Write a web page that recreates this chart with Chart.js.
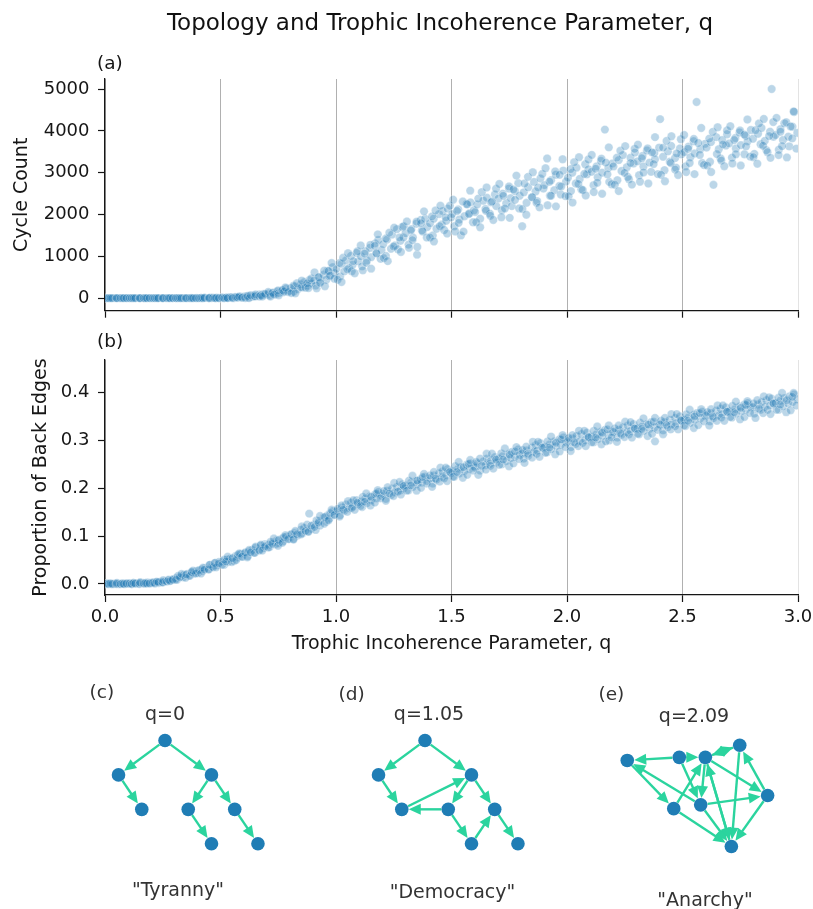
<!DOCTYPE html>
<html>
<head>
<meta charset="utf-8">
<script src="https://cdn.jsdelivr.net/npm/chart.js@4.4.1/dist/chart.umd.min.js"></script>
<style>
html,body{margin:0;padding:0;background:#fff;overflow:hidden;}
#page{position:relative;width:813px;height:909px;background:#fff;font-family:"DejaVu Sans",sans-serif;overflow:hidden;}
#page canvas{position:absolute;}
.t{position:absolute;white-space:nowrap;font-family:"DejaVu Sans",sans-serif;}
</style>
</head>
<body>
<div id="page">
<canvas id="cA" width="813" height="330" style="left:0;top:0"></canvas>
<canvas id="cB" width="813" height="330" style="left:0;top:330px"></canvas>
<canvas id="netC" width="246" height="203" style="left:42px;top:682px"></canvas>
<canvas id="netD" width="246" height="203" style="left:302px;top:682px"></canvas>
<canvas id="netE" width="246" height="203" style="left:567px;top:682px"></canvas>
</div>
<script>
// ---------- data ----------
const xTicks = [0, 0.5, 1.0, 1.5, 2.0, 2.5, 3.0];
const yTicksA = [0, 1000, 2000, 3000, 4000, 5000];
const yTicksB = [0, 0.1, 0.2, 0.3, 0.4];

// trophic incoherence parameter of each sampled network
const q = [
0.002,0.011,0.019,0.027,0.038,0.046,0.057,0.064,0.079,0.088,0.096,
0.104,0.115,0.122,0.133,0.147,0.153,0.166,0.172,0.184,0.195,
0.203,0.214,0.226,0.232,0.245,0.251,0.263,0.277,0.286,0.294,
0.306,0.312,0.325,0.338,0.341,0.356,0.363,0.374,0.385,0.397,
0.402,0.417,0.423,0.431,0.449,0.455,0.462,0.478,0.484,0.493,
0.507,0.516,0.528,0.533,0.541,0.559,0.564,0.573,0.588,0.595,
0.604,0.618,0.622,0.637,0.645,0.651,0.669,0.673,0.686,0.692,
0.709,0.713,0.726,0.738,0.744,0.752,0.767,0.771,0.785,0.798,
0.803,0.816,0.821,0.834,0.847,0.855,0.862,0.879,0.884,0.893,
0.905,0.912,0.927,0.931,0.946,0.958,0.963,0.971,0.986,0.994,
1.002,1.018,1.024,1.036,1.043,1.057,1.065,1.072,1.089,1.096,
1.108,1.113,1.127,1.134,1.146,1.152,1.169,1.175,1.183,1.197,
1.204,1.216,1.221,1.238,1.243,1.255,1.264,1.279,1.287,1.292,
1.301,1.314,1.326,1.333,1.348,1.351,1.367,1.372,1.386,1.395,
1.407,1.419,1.423,1.435,1.446,1.458,1.461,1.477,1.483,1.498,
1.503,1.512,1.529,1.534,1.541,1.556,1.565,1.578,1.582,1.597,
1.602,1.611,1.624,1.638,1.647,1.653,1.666,1.671,1.688,1.694,
1.703,1.718,1.722,1.737,1.749,1.756,1.761,1.774,1.789,1.795,
1.806,1.813,1.825,1.832,1.848,1.857,1.864,1.871,1.885,1.898,
1.902,1.914,1.926,1.931,1.945,1.952,1.967,1.973,1.984,1.996,
2.004,2.017,2.023,2.038,2.041,2.055,2.062,2.079,2.086,2.093,
2.106,2.115,2.128,2.133,2.147,2.152,2.164,2.179,2.183,2.197,
2.201,2.218,2.224,2.236,2.242,2.259,2.263,2.275,2.288,2.294,
2.305,2.312,2.327,2.331,2.346,2.357,2.364,2.378,2.381,2.399,
2.403,2.416,2.422,2.437,2.445,2.451,2.468,2.472,2.489,2.495,
2.507,2.513,2.526,2.534,2.548,2.552,2.561,2.577,2.585,2.598,
2.604,2.619,2.623,2.634,2.646,2.657,2.665,2.672,2.688,2.693,
2.702,2.714,2.729,2.731,2.747,2.753,2.768,2.774,2.782,2.796,
2.805,2.811,2.827,2.838,2.842,2.856,2.863,2.879,2.886,2.894,
2.903,2.917,2.924,2.935,2.941,2.958,2.962,2.976,2.983,2.997,
0.007,0.016,0.024,0.031,0.049,0.052,0.068,0.075,0.081,0.093,
0.107,0.116,0.124,0.131,0.149,0.152,0.168,0.175,0.181,0.193,
0.207,0.216,0.224,0.231,0.249,0.252,0.268,0.275,0.281,0.293,
0.307,0.316,0.324,0.331,0.349,0.352,0.368,0.375,0.381,0.393,
0.407,0.416,0.424,0.431,0.449,0.452,0.468,0.475,0.481,0.493,
0.507,0.516,0.524,0.531,0.549,0.552,0.568,0.575,0.581,0.593,
0.607,0.616,0.624,0.631,0.649,0.652,0.668,0.675,0.681,0.693,
0.707,0.716,0.724,0.731,0.749,0.752,0.768,0.775,0.781,0.793,
0.807,0.816,0.824,0.831,0.849,0.852,0.868,0.875,0.881,0.893,
0.907,0.916,0.924,0.931,0.949,0.952,0.968,0.975,0.981,0.993,
1.007,1.016,1.024,1.031,1.049,1.052,1.068,1.075,1.081,1.093,
1.107,1.116,1.124,1.131,1.149,1.152,1.168,1.175,1.181,1.193,
1.207,1.216,1.224,1.231,1.249,1.252,1.268,1.275,1.281,1.293,
1.307,1.316,1.324,1.331,1.349,1.352,1.368,1.375,1.381,1.393,
1.407,1.416,1.424,1.431,1.449,1.452,1.468,1.475,1.481,1.493,
1.507,1.516,1.524,1.531,1.549,1.552,1.568,1.575,1.581,1.593,
1.607,1.616,1.624,1.631,1.649,1.652,1.668,1.675,1.681,1.693,
1.707,1.716,1.724,1.731,1.749,1.752,1.768,1.775,1.781,1.793,
1.807,1.816,1.824,1.831,1.849,1.852,1.868,1.875,1.881,1.893,
1.907,1.916,1.924,1.931,1.949,1.952,1.968,1.975,1.981,1.993,
2.007,2.016,2.024,2.031,2.049,2.052,2.068,2.075,2.081,2.093,
2.107,2.116,2.124,2.131,2.149,2.152,2.168,2.175,2.181,2.193,
2.207,2.216,2.224,2.231,2.249,2.252,2.268,2.275,2.281,2.293,
2.307,2.316,2.324,2.331,2.349,2.352,2.368,2.375,2.381,2.393,
2.407,2.416,2.424,2.431,2.449,2.452,2.468,2.475,2.481,2.493,
2.507,2.516,2.524,2.531,2.549,2.552,2.568,2.575,2.581,2.593,
2.607,2.616,2.624,2.631,2.649,2.652,2.668,2.675,2.681,2.693,
2.707,2.716,2.724,2.731,2.749,2.752,2.768,2.775,2.781,2.793,
2.807,2.816,2.824,2.831,2.849,2.852,2.868,2.875,2.881,2.893,
2.907,2.916,2.924,2.931,2.949,2.952,2.968,2.975,2.981,2.993
];

// panel (a): number of cycles of each network
const cycleCount = [
0,0,0,0,0,0,0,0,0,0,0,
0,0,0,0,0,0,0,0,0,0,
0,0,0,0,0,0,0,0,0,0,
0,0,0,0,0,0,0,5,0,5,
0,5,0,5,0,10,5,0,10,5,
5,0,15,10,20,5,30,15,35,20,
40,15,50,30,65,45,90,60,100,75,
110,60,130,95,160,120,190,140,230,175,
240,150,280,210,330,260,380,300,430,350,
420,300,500,390,560,440,650,520,740,600,
700,520,820,640,900,720,1010,800,1080,880,
1000,760,1120,900,1200,980,1310,1080,1390,1150,
1290,1010,1400,1180,1520,1260,1650,1370,1700,1450,
1550,1280,1650,1450,1780,1040,1870,1620,1900,1700,
1790,1500,1900,1660,2010,1760,2080,1850,2140,1930,
2010,1720,2120,1880,1500,1960,2250,2030,2290,2100,
2060,2240,1900,2330,2130,2400,2020,2290,2480,2200,
2380,2100,2500,2270,2620,2390,2200,2560,2750,2450,
1720,2530,2280,2650,2410,2780,2550,2320,2860,2620,
2700,3340,2450,2820,2580,2950,2680,2480,3050,2790,
2880,2560,3000,2740,3120,2850,2600,3200,2960,3080,
3020,2700,3150,2890,3280,3000,4030,3110,2780,3220,
3150,2820,3300,3040,3420,3130,2900,3360,3220,3480,
3270,2940,3400,3150,3530,3240,3020,3470,3320,3600,
4280,3380,3060,3510,3260,3640,3350,3120,3580,3440,
3490,3150,3620,3370,3750,3460,4690,3560,3230,3690,
3600,3260,3730,2710,3850,3560,3340,3780,3650,3920,
3700,3360,3830,3580,3960,3660,3440,3880,3750,4020,
3810,3450,3930,3680,4070,3760,3540,3980,5000,3860,
3900,3550,4040,3780,4180,3860,3630,4100,4450,3950,
0,0,0,0,0,0,0,0,0,0,
0,0,0,0,0,0,0,0,0,0,
0,0,0,0,0,0,0,0,0,0,
0,0,0,0,0,0,0,0,0,0,
0,5,0,10,0,5,10,0,5,0,
18,0,10,0,23,0,24,16,39,11,
3,52,0,70,42,88,40,70,38,102,
150,40,125,85,185,70,190,160,255,145,
120,295,115,355,260,420,250,355,240,470,
615,235,500,365,655,285,650,540,840,465,
440,840,385,965,690,1075,645,885,595,1120,
1260,665,1065,845,1275,705,1250,1070,1525,940,
960,1425,885,1565,1235,1685,1170,1450,1105,1720,
1835,1205,1620,1385,1830,1225,1790,1595,2075,1450,
1450,1955,1355,2095,1720,2210,1630,1930,1545,2210,
2355,1595,2085,1800,2310,1590,2245,2010,2570,1815,
1815,2380,1695,2535,2090,2645,1970,2310,1870,2615,
2730,1935,2445,2145,2670,1920,2600,2350,2930,2145,
2130,2740,1995,2900,2415,3010,2280,2645,2170,2970,
3105,2220,2785,2450,3030,2195,2950,2670,3320,2440,
2435,3085,2285,3250,2730,3370,2585,2970,2455,3315,
3425,2535,3095,2760,3335,2495,3240,2960,3605,2725,
2710,3360,2560,3525,2995,3635,2845,3230,2715,3570,
3670,2785,3345,3005,3580,2740,3485,3205,3850,2965,
2950,3600,2795,3760,3230,3870,3075,3460,2945,3800,
3900,3015,3570,3230,3805,2965,3710,3425,4070,3185,
3170,3815,3015,3975,3445,4085,3290,3675,3155,4010,
4110,3220,3780,3440,4010,3170,3910,3630,4270,3385,
3370,4015,3215,4175,3645,4285,3490,3875,3355,4210,
4310,3420,3980,3635,4205,3365,4105,3820,4465,3575
];

// panel (b): proportion of back edges of each network
const backEdges = [
0.000,0.000,0.001,0.000,0.000,0.001,0.000,0.000,0.001,0.000,0.001,
0.001,0.000,0.002,0.001,0.001,0.003,0.002,0.001,0.003,0.002,
0.002,0.003,0.004,0.002,0.005,0.004,0.006,0.008,0.007,0.010,
0.012,0.009,0.016,0.014,0.019,0.021,0.017,0.024,0.022,0.027,
0.023,0.030,0.027,0.033,0.031,0.040,0.036,0.044,0.039,0.046,
0.047,0.040,0.051,0.046,0.053,0.048,0.058,0.055,0.063,0.057,
0.064,0.058,0.068,0.071,0.065,0.076,0.072,0.080,0.075,0.083,
0.082,0.077,0.087,0.083,0.091,0.085,0.095,0.089,0.099,0.094,
0.103,0.094,0.107,0.101,0.113,0.106,0.117,0.110,0.147,0.115,
0.124,0.113,0.131,0.122,0.139,0.130,0.143,0.136,0.152,0.145,
0.152,0.144,0.160,0.153,0.166,0.158,0.170,0.162,0.175,0.167,
0.172,0.161,0.178,0.169,0.183,0.175,0.187,0.179,0.192,0.184,
0.188,0.178,0.195,0.186,0.199,0.191,0.203,0.196,0.208,0.200,
0.206,0.196,0.212,0.203,0.216,0.209,0.219,0.212,0.224,0.215,
0.221,0.210,0.227,0.218,0.231,0.223,0.235,0.228,0.240,0.232,
0.236,0.224,0.241,0.231,0.244,0.236,0.249,0.240,0.252,0.246,
0.243,0.252,0.237,0.256,0.248,0.262,0.251,0.258,0.265,0.254,
0.262,0.250,0.267,0.257,0.272,0.263,0.276,0.266,0.281,0.270,
0.273,0.262,0.279,0.268,0.285,0.276,0.290,0.279,0.294,0.284,
0.287,0.275,0.292,0.282,0.298,0.288,0.302,0.291,0.306,0.296,
0.299,0.286,0.304,0.293,0.309,0.298,0.313,0.301,0.316,0.306,
0.308,0.296,0.313,0.303,0.318,0.309,0.322,0.311,0.300,0.317,
0.318,0.306,0.322,0.312,0.327,0.317,0.331,0.320,0.334,0.325,
0.325,0.313,0.329,0.320,0.334,0.324,0.338,0.327,0.298,0.333,
0.333,0.321,0.338,0.328,0.343,0.333,0.347,0.336,0.350,0.341,
0.343,0.330,0.348,0.337,0.353,0.343,0.357,0.346,0.360,0.351,
0.353,0.340,0.357,0.347,0.362,0.352,0.366,0.355,0.369,0.360,
0.361,0.348,0.366,0.356,0.371,0.361,0.375,0.364,0.378,0.369,
0.370,0.356,0.375,0.364,0.380,0.370,0.384,0.373,0.387,0.378,
0.378,0.364,0.383,0.372,0.388,0.377,0.392,0.380,0.396,0.386,
0.001,0.000,0.001,0.000,0.000,0.002,0.000,0.001,0.000,0.001,
0.001,0.000,0.002,0.001,0.000,0.003,0.001,0.002,0.001,0.001,
0.003,0.001,0.005,0.004,0.003,0.008,0.005,0.009,0.006,0.009,
0.009,0.017,0.014,0.021,0.013,0.020,0.017,0.025,0.028,0.022,
0.029,0.022,0.034,0.030,0.030,0.040,0.035,0.044,0.035,0.043,
0.040,0.051,0.047,0.057,0.046,0.054,0.050,0.061,0.064,0.057,
0.066,0.056,0.071,0.066,0.065,0.078,0.070,0.082,0.070,0.079,
0.076,0.088,0.084,0.095,0.080,0.092,0.086,0.098,0.102,0.094,
0.104,0.093,0.111,0.104,0.104,0.120,0.111,0.124,0.109,0.122,
0.119,0.133,0.128,0.142,0.126,0.140,0.133,0.148,0.155,0.144,
0.157,0.141,0.164,0.155,0.151,0.173,0.159,0.175,0.155,0.170,
0.163,0.182,0.172,0.189,0.164,0.182,0.170,0.189,0.196,0.179,
0.194,0.174,0.202,0.189,0.184,0.211,0.193,0.213,0.187,0.205,
0.195,0.216,0.206,0.226,0.195,0.216,0.201,0.223,0.230,0.210,
0.227,0.203,0.234,0.220,0.214,0.243,0.221,0.243,0.215,0.234,
0.224,0.246,0.234,0.255,0.222,0.244,0.228,0.251,0.259,0.237,
0.255,0.228,0.262,0.247,0.239,0.272,0.247,0.272,0.241,0.260,
0.249,0.273,0.260,0.283,0.246,0.270,0.252,0.277,0.286,0.261,
0.280,0.253,0.287,0.272,0.264,0.297,0.272,0.297,0.266,0.285,
0.274,0.298,0.285,0.308,0.271,0.295,0.277,0.302,0.311,0.286,
0.305,0.278,0.311,0.296,0.288,0.320,0.295,0.320,0.288,0.307,
0.296,0.320,0.306,0.329,0.292,0.316,0.298,0.323,0.331,0.306,
0.325,0.297,0.331,0.315,0.307,0.339,0.313,0.338,0.306,0.325,
0.314,0.337,0.324,0.346,0.309,0.333,0.314,0.339,0.347,0.322,
0.341,0.313,0.347,0.332,0.323,0.355,0.330,0.355,0.323,0.342,
0.331,0.354,0.341,0.364,0.326,0.350,0.332,0.357,0.365,0.340,
0.359,0.331,0.365,0.350,0.341,0.373,0.348,0.373,0.341,0.360,
0.349,0.372,0.359,0.381,0.344,0.368,0.349,0.374,0.382,0.357,
0.377,0.347,0.384,0.366,0.357,0.392,0.364,0.390,0.355,0.377,
0.364,0.389,0.375,0.399,0.359,0.384,0.363,0.391,0.399,0.373
];

// network layouts (layout units) and directed edges [from, to]
const treeX = [0, -1, 1, -0.5, 0.5, 1.5, 1, 2];
const treeY = [0, 1, 1, 2, 2, 2, 3, 3];
const edgesTyranny = [[0,1],[0,2],[1,3],[2,4],[2,5],[4,6],[5,7]];
const edgesDemocracy = [[0,1],[0,2],[1,3],[3,2],[2,4],[2,5],[4,3],[4,6],[6,5],[5,7]];
const anarchyX = [-1.35, -0.23, 0.33, 1.07, 1.67, 0.23, -0.35, 0.89];
const anarchyY = [0.58, 0.49, 0.49, 0.14, 1.60, 1.87, 1.98, 3.08];
const edgesAnarchy = [[1,0],[1,2],[2,3],[3,2],[0,6],[5,0],[1,5],[2,5],[6,2],[2,4],[5,4],[4,3],[3,7],[4,7],[6,7],[5,7],[2,7],[7,2]];

// ---------- styling ----------
const FONT = 'DejaVu Sans';
const INK = '#161616';
const page = document.getElementById('page');

function addText(str, x, base, fs, align, color) {
  const d = document.createElement('div');
  d.className = 't';
  d.textContent = str;
  d.style.fontSize = fs + 'px';
  d.style.lineHeight = fs + 'px';
  d.style.top = (base - 0.846 * fs) + 'px';
  d.style.left = x + 'px';
  d.style.color = color;
  if (align === 'center') d.style.transform = 'translateX(-50%)';
  page.appendChild(d);
}

addText('Topology and Trophic Incoherence Parameter, q', 440, 30.7, 23, 'center', '#111');
addText('(a)', 97, 69.5, 18.5, 'left', INK);
addText('(b)', 97, 347.6, 18.5, 'left', INK);
addText('(c)', 89.5, 699, 18.5, 'left', '#333');
addText('q=0', 165, 720, 19, 'center', '#333');
addText('"Tyranny"', 178, 896, 19, 'center', '#333');
addText('(d)', 338.5, 700.5, 18.5, 'left', '#333');
addText('q=1.05', 429, 720, 19, 'center', '#333');
addText('"Democracy"', 452.5, 897.7, 19, 'center', '#333');
addText('(e)', 598.5, 700.5, 18.5, 'left', '#333');
addText('q=2.09', 694, 722, 19, 'center', '#333');
addText('"Anarchy"', 705, 906, 19, 'center', '#333');

const border = {display: true, color: INK, width: 1.3};
const xGridColor = ctx => (ctx.tick && ctx.tick.value === 3) ? 'rgba(176,176,176,0.35)' : '#b0b0b0';

function scatterChart(id, values, yMin, yMax, yTicks, yTitle, yTitlePad, showXLabels, fmtY) {
  const pts = q.map((v, i) => ({x: v, y: values[i]}));
  return new Chart(document.getElementById(id), {
    type: 'scatter',
    data: {datasets: [{
      data: pts,
      pointRadius: 4.2,
      pointHoverRadius: 4.2,
      pointBackgroundColor: 'rgba(31,119,180,0.3)',
      pointBorderColor: 'rgba(255,255,255,0.5)',
      pointBorderWidth: 0.6
    }]},
    options: {
      responsive: false,
      animation: false,
      events: [],
      layout: {padding: {left: 0, right: 15, top: showXLabels ? 30 : 79, bottom: 0}},
      plugins: {legend: {display: false}, tooltip: {enabled: false}},
      scales: {
        x: {
          type: 'linear', min: 0, max: 3,
          afterBuildTicks: s => { s.ticks = xTicks.map(v => ({value: v})); },
          afterFit: s => { s.height = showXLabels ? 65 : 15; s.paddingLeft = 0; s.paddingRight = 0; },
          ticks: {display: showXLabels, font: {family: FONT, size: 18}, color: INK, padding: 5,
                  maxRotation: 0, autoSkip: false, callback: v => Number(v).toFixed(1)},
          grid: {color: xGridColor, lineWidth: 1, drawTicks: true, tickLength: 7, tickColor: INK, tickWidth: 1.2},
          border: border,
          title: {display: showXLabels, text: 'Trophic Incoherence Parameter, q',
                  font: {family: FONT, size: 19}, color: INK, padding: {top: 0, bottom: 4.6}}
        },
        y: {
          type: 'linear', min: yMin, max: yMax,
          afterBuildTicks: s => { s.ticks = yTicks.map(v => ({value: v})); },
          afterFit: s => { s.width = 105; },
          ticks: {font: {family: FONT, size: 18}, color: INK, padding: 8.5, autoSkip: false, callback: fmtY},
          grid: {drawOnChartArea: false, drawTicks: true, tickLength: 7, tickColor: INK, tickWidth: 1.2},
          border: border,
          title: {display: true, text: yTitle, font: {family: FONT, size: 19}, color: INK,
                  padding: {top: yTitlePad, bottom: 0}}
        }
      }
    }
  });
}

scatterChart('cA', cycleCount, -300, 5240, yTicksA, 'Cycle Count', 11, false, v => String(v));
scatterChart('cB', backEdges, -0.023, 0.468, yTicksB, 'Proportion of Back Edges', 29.2, true, v => Number(v).toFixed(1));

// ---------- networks ----------
const NODE = '#1f7db5';
const EDGE = '#2bd49e';

function edgePlugin(X, Y, edges) {
  return {
    id: 'netEdges',
    beforeDatasetsDraw(chart) {
      const c = chart.ctx, sx = chart.scales.x, sy = chart.scales.y;
      const r = 7, head = 12, hw = 5.5;
      c.save();
      c.strokeStyle = EDGE; c.fillStyle = EDGE; c.lineWidth = 2.4; c.lineCap = 'butt';
      edges.forEach(([a, b]) => {
        const x1 = sx.getPixelForValue(X[a]), y1 = sy.getPixelForValue(Y[a]);
        const x2 = sx.getPixelForValue(X[b]), y2 = sy.getPixelForValue(Y[b]);
        const dx = x2 - x1, dy = y2 - y1, L = Math.hypot(dx, dy);
        const ux = dx / L, uy = dy / L;
        const tx = x2 - ux * r, ty = y2 - uy * r;
        const bx = tx - ux * head, by = ty - uy * head;
        c.beginPath();
        c.moveTo(x1 + ux * r, y1 + uy * r);
        c.lineTo(bx + ux * 2, by + uy * 2);
        c.stroke();
        c.beginPath();
        c.moveTo(tx, ty);
        c.lineTo(bx - uy * hw, by + ux * hw);
        c.lineTo(bx + uy * hw, by - ux * hw);
        c.closePath();
        c.fill();
      });
      c.restore();
    }
  };
}

function netChart(id, X, Y, edges) {
  return new Chart(document.getElementById(id), {
    type: 'scatter',
    data: {datasets: [{
      data: X.map((v, i) => ({x: v, y: Y[i]})),
      pointRadius: 6.8, pointHoverRadius: 6.8,
      pointBackgroundColor: NODE, pointBorderWidth: 0
    }]},
    options: {
      responsive: false, animation: false, events: [],
      layout: {padding: 0},
      plugins: {legend: {display: false}, tooltip: {enabled: false}},
      scales: {
        x: {display: false, min: -2.5, max: 2.5},
        y: {display: false, min: -1.5, max: 4, reverse: true}
      }
    },
    plugins: [edgePlugin(X, Y, edges)]
  });
}

netChart('netC', treeX, treeY, edgesTyranny);
netChart('netD', treeX, treeY, edgesDemocracy);
netChart('netE', anarchyX, anarchyY, edgesAnarchy);
</script>
</body>
</html>
